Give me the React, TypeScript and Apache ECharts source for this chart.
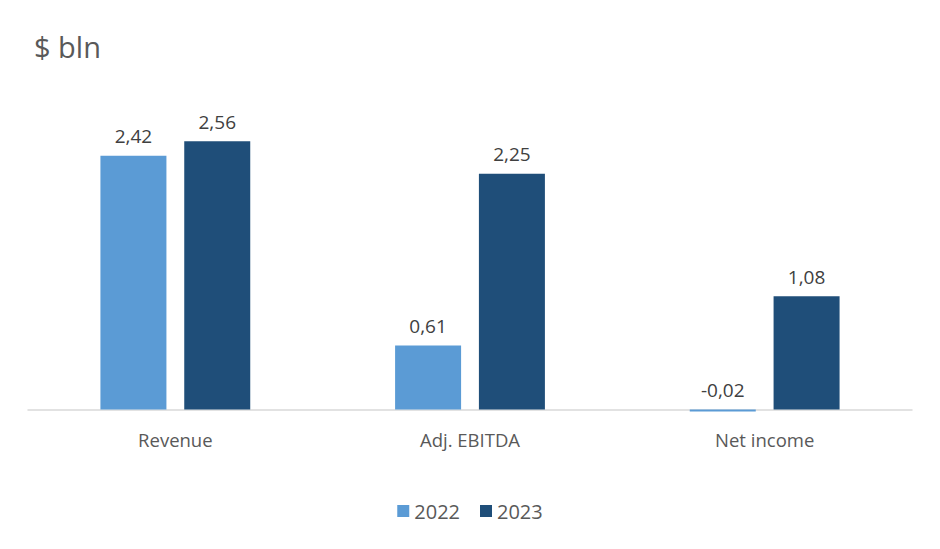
import React, { useEffect, useRef } from "react";
import * as echarts from "echarts";

const categories = ["Revenue", "Adj. EBITDA", "Net income"];
const seriesNames = ["2022", "2023"];
const values2022 = [2.42, 0.61, -0.02];
const values2023 = [2.56, 2.25, 1.08];
const colors = ["#5B9BD5", "#1F4E79"];

const fmt = (v: number) => v.toFixed(2).replace(".", ",");

export default function App() {
  const ref = useRef<HTMLDivElement>(null);
  useEffect(() => {
    if (!ref.current) return;
    const chart = echarts.init(ref.current, null, { renderer: "svg" });
    const font = "'Open Sans', 'Noto Sans', sans-serif";
    const mk = (name: string, data: number[], color: string) => ({
      name,
      type: "bar",
      data,
      barWidth: 66,
      barGap: "27%",
      itemStyle: { color },
      label: {
        show: true,
        position: "top",
        distance: 10,
        formatter: (p: any) => fmt(p.value),
        fontSize: 19,
        fontFamily: font,
        color: "#404040",
      },
    });
    chart.setOption({
      animation: false,
      title: {
        text: "$ bln",
        left: 29,
        top: 27,
        textStyle: { fontSize: 29, fontWeight: "normal", color: "#595959", fontFamily: font },
      },
      legend: {
        top: 496,
        left: "center",
        itemWidth: 12,
        itemHeight: 12,
        itemGap: 20,
        icon: "rect",
        textStyle: { fontSize: 20, color: "#595959", fontFamily: font },
        data: seriesNames,
      },
      grid: { left: 28, right: 28, top: 95, height: 325, containLabel: false },
      xAxis: {
        type: "category",
        data: categories,
        axisLine: { onZero: true, lineStyle: { color: "#d9d9d9", width: 1.5 } },
        axisTick: { show: false },
        axisLabel: { fontSize: 18.5, color: "#595959", fontFamily: font, margin: 10 },
      },
      yAxis: {
        type: "value",
        min: -0.1,
        max: 3,
        show: false,
        splitLine: { show: false },
      },
      series: [mk(seriesNames[0], values2022, colors[0]), mk(seriesNames[1], values2023, colors[1])],
    });
    return () => chart.dispose();
  }, []);
  return (
    <div
      ref={ref}
      style={{ position: "absolute", left: 0, top: 0, width: 940, height: 549 }}
    />
  );
}
